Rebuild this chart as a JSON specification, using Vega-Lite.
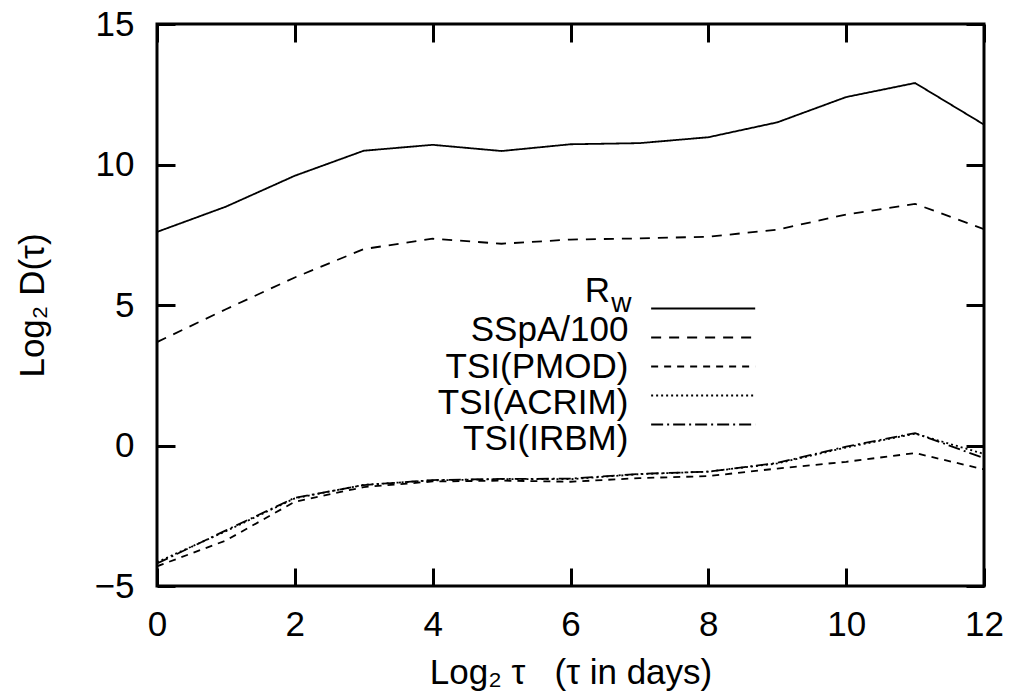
{
  "$schema": "https://vega.github.io/schema/vega-lite/v6.json",
  "width": 827,
  "height": 562,
  "autosize": "none",
  "padding": {"left": 157, "top": 24, "right": 29, "bottom": 110},
  "background": "white",
  "config": {
    "view": {"stroke": "black", "strokeWidth": 3},
    "font": "Liberation Sans",
    "axis": {
      "grid": false,
      "domain": false,
      "tickColor": "black",
      "tickWidth": 3,
      "tickSize": -18,
      "labelFlush": false,
      "labelOverlap": false,
      "labelFont": "Liberation Sans",
      "labelFontSize": 35,
      "labelColor": "black",
      "titleFont": "Liberation Sans",
      "titleFontSize": 35,
      "titleFontWeight": "normal",
      "titleColor": "black"
    }
  },
  "datasets": {
    "series": [
      {"x": 0, "s": "Rw", "v": 7.6},
      {"x": 1, "s": "Rw", "v": 8.5},
      {"x": 2, "s": "Rw", "v": 9.6},
      {"x": 3, "s": "Rw", "v": 10.49},
      {"x": 4, "s": "Rw", "v": 10.7},
      {"x": 5, "s": "Rw", "v": 10.48},
      {"x": 6, "s": "Rw", "v": 10.72},
      {"x": 7, "s": "Rw", "v": 10.76},
      {"x": 8, "s": "Rw", "v": 10.97},
      {"x": 9, "s": "Rw", "v": 11.5},
      {"x": 10, "s": "Rw", "v": 12.4},
      {"x": 11, "s": "Rw", "v": 12.9},
      {"x": 12, "s": "Rw", "v": 11.42},
      {"x": 0, "s": "SSpA/100", "v": 3.68},
      {"x": 1, "s": "SSpA/100", "v": 4.85},
      {"x": 2, "s": "SSpA/100", "v": 5.98},
      {"x": 3, "s": "SSpA/100", "v": 6.99},
      {"x": 4, "s": "SSpA/100", "v": 7.36},
      {"x": 5, "s": "SSpA/100", "v": 7.18},
      {"x": 6, "s": "SSpA/100", "v": 7.33},
      {"x": 7, "s": "SSpA/100", "v": 7.37},
      {"x": 8, "s": "SSpA/100", "v": 7.43},
      {"x": 9, "s": "SSpA/100", "v": 7.68},
      {"x": 10, "s": "SSpA/100", "v": 8.22},
      {"x": 11, "s": "SSpA/100", "v": 8.6},
      {"x": 12, "s": "SSpA/100", "v": 7.7},
      {"x": 0, "s": "TSI(PMOD)", "v": -4.3},
      {"x": 1, "s": "TSI(PMOD)", "v": -3.38},
      {"x": 2, "s": "TSI(PMOD)", "v": -2.0},
      {"x": 3, "s": "TSI(PMOD)", "v": -1.48},
      {"x": 4, "s": "TSI(PMOD)", "v": -1.28},
      {"x": 5, "s": "TSI(PMOD)", "v": -1.25},
      {"x": 6, "s": "TSI(PMOD)", "v": -1.29},
      {"x": 7, "s": "TSI(PMOD)", "v": -1.16},
      {"x": 8, "s": "TSI(PMOD)", "v": -1.09},
      {"x": 9, "s": "TSI(PMOD)", "v": -0.82},
      {"x": 10, "s": "TSI(PMOD)", "v": -0.58},
      {"x": 11, "s": "TSI(PMOD)", "v": -0.27},
      {"x": 12, "s": "TSI(PMOD)", "v": -0.85},
      {"x": 0, "s": "TSI(ACRIM)", "v": -4.15},
      {"x": 1, "s": "TSI(ACRIM)", "v": -3.05},
      {"x": 2, "s": "TSI(ACRIM)", "v": -1.88},
      {"x": 3, "s": "TSI(ACRIM)", "v": -1.4},
      {"x": 4, "s": "TSI(ACRIM)", "v": -1.24},
      {"x": 5, "s": "TSI(ACRIM)", "v": -1.2},
      {"x": 6, "s": "TSI(ACRIM)", "v": -1.2},
      {"x": 7, "s": "TSI(ACRIM)", "v": -1.02},
      {"x": 8, "s": "TSI(ACRIM)", "v": -0.93},
      {"x": 9, "s": "TSI(ACRIM)", "v": -0.64},
      {"x": 10, "s": "TSI(ACRIM)", "v": -0.07},
      {"x": 11, "s": "TSI(ACRIM)", "v": 0.42},
      {"x": 12, "s": "TSI(ACRIM)", "v": -0.3},
      {"x": 0, "s": "TSI(IRBM)", "v": -4.2},
      {"x": 1, "s": "TSI(IRBM)", "v": -3.02},
      {"x": 2, "s": "TSI(IRBM)", "v": -1.86},
      {"x": 3, "s": "TSI(IRBM)", "v": -1.41},
      {"x": 4, "s": "TSI(IRBM)", "v": -1.23},
      {"x": 5, "s": "TSI(IRBM)", "v": -1.19},
      {"x": 6, "s": "TSI(IRBM)", "v": -1.18},
      {"x": 7, "s": "TSI(IRBM)", "v": -1.01},
      {"x": 8, "s": "TSI(IRBM)", "v": -0.93},
      {"x": 9, "s": "TSI(IRBM)", "v": -0.62},
      {"x": 10, "s": "TSI(IRBM)", "v": -0.04},
      {"x": 11, "s": "TSI(IRBM)", "v": 0.44},
      {"x": 12, "s": "TSI(IRBM)", "v": -0.45}
    ],
    "legend": [
      {"s": "Rw", "label": "R"},
      {"s": "SSpA/100", "label": "SSpA/100"},
      {"s": "TSI(PMOD)", "label": "TSI(PMOD)"},
      {"s": "TSI(ACRIM)", "label": "TSI(ACRIM)"},
      {"s": "TSI(IRBM)", "label": "TSI(IRBM)"}
    ]
  },
  "layer": [
    {
      "data": {"name": "series"},
      "mark": {"type": "line", "color": "black", "strokeWidth": 1.8, "clip": true},
      "encoding": {
        "x": {"field": "x", "type": "quantitative",
              "scale": {"domain": [0, 12], "nice": false, "zero": false},
              "axis": {"orient": "bottom", "values": [0, 2, 4, 6, 8, 10, 12], "labelPadding": 39,
                       "title": "Log₂ τ\u00a0\u00a0\u00a0(τ in days)", "titlePadding": 13}},
        "y": {"field": "v", "type": "quantitative",
              "scale": {"domain": [-5, 15], "nice": false, "zero": false},
              "axis": {"orient": "left", "values": [-5, 0, 5, 10, 15], "labelPadding": 41,
                       "title": "Log₂ D(τ)", "titlePadding": 44}},
        "detail": {"field": "s"},
        "strokeDash": {"field": "s", "type": "nominal",
                       "scale": {"domain": ["Rw", "SSpA/100", "TSI(PMOD)", "TSI(ACRIM)", "TSI(IRBM)"],
                                 "range": [[1, 0], [10, 8], [7, 6], [2, 3], [12, 4, 2, 4]]},
                       "legend": null}
      }
    },
    {
      "data": {"name": "series"},
      "mark": {"type": "line", "opacity": 0},
      "encoding": {
        "x": {"field": "x", "type": "quantitative",
              "scale": {"domain": [0, 12], "nice": false, "zero": false},
              "axis": {"orient": "top", "values": [0, 2, 4, 6, 8, 10, 12], "labels": false, "title": null}},
        "y": {"field": "v", "type": "quantitative",
              "scale": {"domain": [-5, 15], "nice": false, "zero": false},
              "axis": {"orient": "right", "values": [-5, 0, 5, 10, 15], "labels": false, "title": null}},
        "detail": {"field": "s"}
      }
    },
    {
      "data": {"name": "legend"},
      "mark": {"type": "rule", "color": "black", "strokeWidth": 1.8},
      "encoding": {
        "x": {"datum": 7.17, "type": "quantitative", "axis": null},
        "x2": {"datum": 8.68},
        "y": {"field": "s", "type": "ordinal", "axis": null,
              "scale": {"domain": ["Rw", "SSpA/100", "TSI(PMOD)", "TSI(ACRIM)", "TSI(IRBM)"], "range": [270, 415], "padding": 0}},
        "strokeDash": {"field": "s", "type": "nominal", "legend": null}
      }
    },
    {
      "data": {"name": "legend"},
      "transform": [{"filter": "datum.s !== 'Rw'"}],
      "mark": {"type": "text", "align": "right", "baseline": "middle", "fontSize": 35, "font": "Liberation Sans", "color": "black"},
      "encoding": {
        "x": {"datum": 6.84, "type": "quantitative", "axis": null},
        "y": {"field": "s", "type": "ordinal", "axis": null,
              "scale": {"domain": ["Rw", "SSpA/100", "TSI(PMOD)", "TSI(ACRIM)", "TSI(IRBM)"], "range": [270, 415], "padding": 0}},
        "text": {"field": "label"}
      }
    },
    {
      "data": {"name": "legend"},
      "transform": [{"filter": "datum.s === 'Rw'"}],
      "mark": {"type": "text", "align": "right", "baseline": "middle", "fontSize": 35, "font": "Liberation Sans", "color": "black", "dy": -3},
      "encoding": {
        "x": {"datum": 6.575, "type": "quantitative", "axis": null},
        "y": {"field": "s", "type": "ordinal", "axis": null,
              "scale": {"domain": ["Rw", "SSpA/100", "TSI(PMOD)", "TSI(ACRIM)", "TSI(IRBM)"], "range": [270, 415], "padding": 0}},
        "text": {"field": "label"}
      }
    },
    {
      "data": {"name": "legend"},
      "transform": [{"filter": "datum.s === 'Rw'"}],
      "mark": {"type": "text", "align": "left", "baseline": "middle", "fontSize": 28, "font": "Liberation Sans", "color": "black", "dy": 10},
      "encoding": {
        "x": {"datum": 6.59, "type": "quantitative", "axis": null},
        "y": {"field": "s", "type": "ordinal", "axis": null,
              "scale": {"domain": ["Rw", "SSpA/100", "TSI(PMOD)", "TSI(ACRIM)", "TSI(IRBM)"], "range": [270, 415], "padding": 0}},
        "text": {"value": "w"}
      }
    }
  ],
  "resolve": {
    "scale": {"y": "independent"},
    "axis": {"x": "independent", "y": "independent"}
  }
}
